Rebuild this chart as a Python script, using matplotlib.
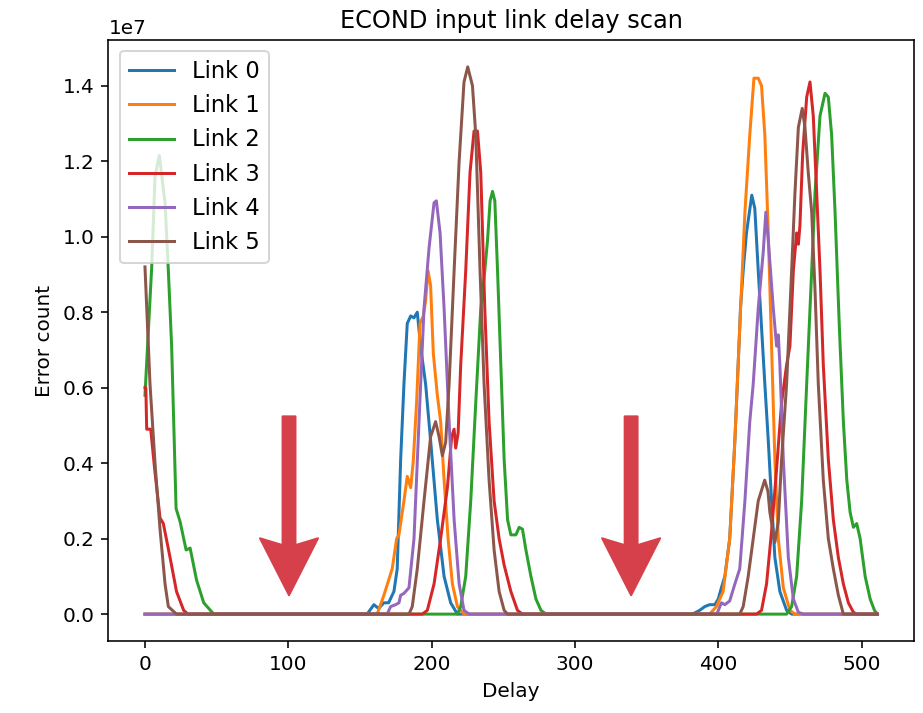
import matplotlib

matplotlib.use("Agg")
import matplotlib.pyplot as plt
from matplotlib.patches import FancyArrow
import numpy as np


# error counts, in units of 1e6
LINK0_DELAY = [0, 155, 159.7, 163, 166.7, 170, 173.7, 176, 178.4, 180.7, 183, 185.4, 187.7, 190, 192.3,
               195.8, 199.3, 204, 208.7, 213.3, 218,
               382, 387, 390.6, 394, 397.6, 400, 402.2, 404.6, 408, 411.6, 415, 415.5, 417.4, 419.7, 423.4,
               425.5, 427.9, 430.2, 432.5, 434.9, 437.2, 439.5, 443, 447.7, 451.2, 511]
LINK0_COUNT = [0, 0, 0.25, 0.15, 0.3, 0.3, 0.6, 1.2, 4.1, 6.1, 7.7, 7.9, 7.85, 8.0, 7.1,
               6.1, 4.6, 2.5, 1.0, 0.3, 0,
               0, 0.1, 0.2, 0.25, 0.25, 0.4, 0.7, 1.0, 2.0, 4.6, 7.6, 8.1, 9.1, 10.1, 11.1,
               10.75, 9.1, 7.6, 6.1, 4.6, 3.0, 1.5, 0.6, 0.1, 0, 0]

LINK1_DELAY = [0, 162, 166.7, 172.5, 175.6, 177.2, 180.7, 183, 185.4, 187.2, 189.5, 191.9, 194.2, 195.8,
               197.5, 199.3, 201.2, 204, 206.3, 208.7, 211.5, 214.5, 218, 222.6,
               394, 398.7, 403.4, 408, 411.6, 415, 418.6, 422, 424.9, 427.9, 430.2, 432.5, 434.9,
               437.2, 439.5, 441.9, 445.4, 450, 453.5, 511]
LINK1_COUNT = [0, 0, 0.5, 1.2, 2.0, 2.1, 3.0, 3.65, 3.35, 4.05, 5.6, 7.7, 7.9, 8.3,
               9.1, 8.7, 6.9, 5.8, 5.1, 3.55, 2.0, 0.8, 0.2, 0,
               0, 0.2, 0.6, 2.0, 4.6, 7.6, 10.65, 12.7, 14.2, 14.2, 14.0, 12.7, 10.1,
               7.1, 4.1, 2.0, 0.7, 0.1, 0, 0]

LINK2_DELAY = [0, 4.7, 7, 10, 14, 16.3, 18.6, 21.7, 24.5, 28.7, 31.5, 36, 41, 48,
               218, 220.3, 223.8, 227.3, 230.8, 234.3, 237.1, 239, 240.8, 242.5, 244.1, 246,
               248.3, 250.6, 253, 255.3, 258.8, 261.1, 263.4, 265.8, 269.3, 272.8, 276.3, 279.8,
               447.7, 451.2, 454.7, 458.2, 461.7, 465.2, 467.5, 471, 474.5, 476.8, 479.1, 481.5,
               484.5, 487.3, 489.7, 492, 494.3, 496.6, 499, 502.5, 506, 509, 511]
LINK2_COUNT = [5.8, 9.2, 11.6, 12.15, 10.9, 9.1, 7.1, 2.8, 2.45, 1.7, 1.75, 0.9, 0.3, 0,
               0, 0.2, 1.0, 3.0, 5.6, 8.1, 9.1, 9.9, 10.95, 11.2, 10.95, 9.1,
               6.6, 4.1, 2.5, 2.1, 2.1, 2.3, 2.25, 1.7, 1.0, 0.4, 0.1, 0,
               0, 0.2, 1.0, 3.0, 6.1, 9.1, 11.15, 13.2, 13.8, 13.7, 12.7, 10.65,
               7.6, 5.1, 3.55, 2.7, 2.3, 2.4, 2.0, 1.0, 0.4, 0.1, 0]

LINK3_DELAY = [0, 0.6, 1.2, 4, 7, 10.5, 12.8, 17.5, 22, 27, 30,
               193.5, 197, 201.7, 206.3, 211, 214, 215.7, 216.8, 218.5, 220.3, 223.8, 226.8,
               229.6, 232, 234.3, 237.1, 240.1, 243.6, 247.1, 250.6, 255.3, 259.9, 263.4,
               426.7, 430.2, 433.7, 437.2, 440.7, 444.2, 447.7, 450, 452.4, 454.7, 455.9, 457,
               458.9, 461.7, 464, 466.3, 468.7, 471, 473.3, 476.8, 480.3, 483.8, 487.3, 490.8,
               494.3, 496.6, 511]
LINK3_COUNT = [6.0, 6.0, 4.9, 4.9, 3.75, 2.55, 2.4, 1.5, 0.6, 0.1, 0,
               0, 0.1, 0.8, 2.0, 3.35, 4.7, 4.9, 4.4, 4.8, 6.6, 9.1, 11.7,
               12.8, 12.8, 11.7, 8.1, 5.1, 3.0, 2.0, 1.3, 0.6, 0.1, 0,
               0, 0.1, 0.8, 2.2, 3.85, 5.6, 6.6, 7.1, 9.1, 10.1, 9.8, 10.3,
               12.2, 13.7, 14.1, 13.2, 11.15, 9.1, 6.6, 4.1, 2.5, 1.5, 0.8, 0.3,
               0.05, 0, 0]

LINK4_DELAY = [0, 169, 171.4, 174.9, 177.2, 178.4, 180.7, 184.2, 187.7, 191.2, 194.7, 198.2, 201.7,
               203.3, 205.9, 208.7, 212.2, 215.7, 219.2, 222.6, 226.1,
               399, 402.2, 404.6, 408, 411.6, 415, 418.6, 422, 424.4, 427.9, 431.4, 433.2, 434.9,
               438.4, 440.7, 441.9, 443, 445.4, 448.9, 452.4, 455.9, 459.4, 511]
LINK4_COUNT = [0, 0, 0.2, 0.25, 0.3, 0.5, 0.55, 0.7, 2.0, 5.1, 8.1, 9.7, 10.9,
               10.95, 10.1, 8.1, 5.1, 2.5, 0.8, 0.1, 0,
               0, 0.3, 0.25, 0.35, 0.8, 1.2, 3.0, 5.1, 6.1, 8.1, 9.6, 10.65, 9.9,
               8.1, 7.1, 7.4, 6.6, 4.1, 1.5, 0.4, 0.05, 0, 0]

LINK5_DELAY = [0, 3.5, 7, 10.5, 14, 16.3, 22,
               184.2, 186.5, 190, 194.7, 199.3, 202.8, 205.2, 207.5, 209.8, 212.2, 215.7, 219.2,
               222.6, 225.2, 228.5, 230.8, 233.8, 236.6, 240.1, 243.6, 247.1, 250.6, 253,
               415, 417.4, 420.9, 424.4, 427.9, 432.4, 434.7, 436, 439.5, 441.9, 444.2, 447.7,
               451.2, 453.5, 455.9, 458.6, 460.5, 462.8, 465.2, 467.5, 469.8, 473.3, 476.8,
               480.3, 483.8, 487.3, 511]
LINK5_COUNT = [9.2, 6.1, 4.0, 2.25, 0.8, 0.2, 0,
               0, 0.2, 1.2, 3.0, 4.7, 5.1, 4.7, 4.2, 4.55, 6.1, 9.1, 12.0,
               14.1, 14.5, 14.0, 12.7, 9.1, 6.1, 3.55, 1.7, 0.6, 0.1, 0,
               0, 0.2, 1.0, 2.0, 3.0, 3.55, 3.25, 2.7, 1.9, 2.45, 4.1, 6.1,
               9.1, 11.15, 12.9, 13.4, 12.9, 11.7, 10.65, 8.6, 6.1, 3.55, 2.0,
               1.2, 0.5, 0, 0]

LINK_DELAYS = [LINK0_DELAY, LINK1_DELAY, LINK2_DELAY, LINK3_DELAY, LINK4_DELAY, LINK5_DELAY]
LINK_COUNTS = [LINK0_COUNT, LINK1_COUNT, LINK2_COUNT, LINK3_COUNT, LINK4_COUNT, LINK5_COUNT]
LINK_LABELS = ["Link 0", "Link 1", "Link 2", "Link 3", "Link 4", "Link 5"]

# delays marked as good settings
ARROW_DELAYS = [100.5, 339.2]
ARROW_TOP = 5.24e6
ARROW_TIP = 0.5e6
ARROW_COLOR = "#d6404a"


def main():
    fig = plt.figure(figsize=(923 / 144, 713 / 144), dpi=144)
    ax = fig.add_axes([0.1174, 0.1003, 0.8728, 0.8443])

    for delay, count, label in zip(LINK_DELAYS, LINK_COUNTS, LINK_LABELS):
        ax.plot(delay, np.array(count) * 1e6, label=label)

    for x in ARROW_DELAYS:
        arrow = FancyArrow(x, ARROW_TOP, 0, ARROW_TIP - ARROW_TOP, width=9.0,
                           head_width=40.5, head_length=1.51e6, overhang=0.12,
                           length_includes_head=True, color=ARROW_COLOR,
                           linewidth=1.0, joinstyle="round", capstyle="round", zorder=5)
        ax.add_patch(arrow)

    ax.set_title("ECOND input link delay scan")
    ax.set_xlabel("Delay")
    ax.set_ylabel("Error count")
    ax.legend(loc="upper left", fontsize=11.3)
    fig.savefig("out.png", dpi=144)
    plt.close(fig)


if __name__ == "__main__":
    main()
